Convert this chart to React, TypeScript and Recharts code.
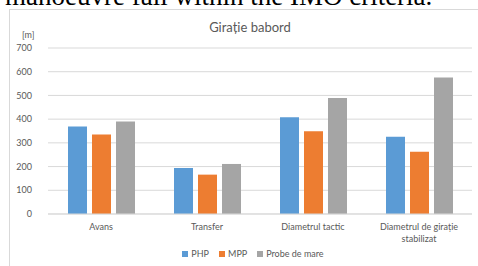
import { BarChart, Bar, XAxis, YAxis, CartesianGrid, Legend } from 'recharts'

const categories = ['Avans', 'Transfer', 'Diametrul tactic', 'Diametrul de girație stabilizat']
const php = [369, 194, 408, 326]
const mpp = [335, 166, 349, 262]
const probeDeMare = [390, 211, 489, 576]
const yTicks = [0, 100, 200, 300, 400, 500, 600, 700]

const series = [
  { key: 'PHP', color: '#5b9bd5' },
  { key: 'MPP', color: '#ed7d31' },
  { key: 'Probe de mare', color: '#a5a5a5' },
]

const font = 'Lato, "Open Sans", sans-serif'
const textColor = '#595959'

const data = categories.map((name, i) => ({
  name,
  PHP: php[i],
  MPP: mpp[i],
  'Probe de mare': probeDeMare[i],
}))

function CategoryTick(props: any) {
  const { x, y, payload } = props
  const label: string = payload.value
  // excel-style wrap for the long label
  const lines = label.length > 20 ? ['Diametrul de girație', 'stabilizat'] : [label]
  return (
    <text x={x} y={y + 8} textAnchor="middle" fill={textColor} fontSize={9} fontFamily={font}>
      {lines.map((l, i) => (
        <tspan key={i} x={x} dy={i === 0 ? 0 : 12}>
          {l}
        </tspan>
      ))}
    </text>
  )
}

function LegendContent() {
  return (
    <div
      style={{
        display: 'flex',
        justifyContent: 'center',
        gap: 10,
        fontFamily: font,
        fontSize: 9,
        color: textColor,
        paddingLeft: 34,
      }}
    >
      {series.map((s) => (
        <span key={s.key} style={{ display: 'flex', alignItems: 'center', gap: 3 }}>
          <span style={{ width: 6, height: 6, background: s.color, display: 'inline-block' }} />
          {s.key}
        </span>
      ))}
    </div>
  )
}

export default function App() {
  return (
    <div style={{ position: 'fixed', left: 0, top: 0, width: 478, height: 266, overflow: 'hidden', background: '#fff' }}>
      <div style={{ position: 'absolute', left: 0, top: 0 }}>
        <BarChart
          width={478}
          height={266}
          data={data}
          margin={{ top: 48, right: 6, bottom: 4, left: 0 }}
          barSize={19}
          barGap={5}
        >
          <CartesianGrid vertical={false} stroke="#d9d9d9" />
          <XAxis
            dataKey="name"
            tick={<CategoryTick />}
            axisLine={{ stroke: '#d9d9d9' }}
            tickLine={false}
            height={34}
            interval={0}
          />
          <YAxis
            domain={[0, 700]}
            ticks={yTicks}
            width={48}
            axisLine={false}
            tickLine={false}
            tick={{ fontSize: 9, fill: textColor, fontFamily: font }}
            tickMargin={10}
          />
          <Legend verticalAlign="bottom" height={14} content={<LegendContent />} />
          {series.map((s) => (
            <Bar key={s.key} dataKey={s.key} fill={s.color} isAnimationActive={false} />
          ))}
        </BarChart>
      </div>
      <div
        style={{
          position: 'absolute',
          left: 9,
          top: 9,
          width: 478,
          height: 266,
          border: '1px solid #d9d9d9',
          pointerEvents: 'none',
        }}
      />
      <div
        style={{
          position: 'absolute',
          left: 0,
          width: 500,
          top: 19,
          textAlign: 'center',
          fontFamily: font,
          fontSize: 13,
          color: textColor,
        }}
      >
        Girație babord
      </div>
      <div style={{ position: 'absolute', left: 22, top: 29, fontFamily: font, fontSize: 9, color: textColor }}>
        [m]
      </div>
      <div
        style={{
          position: 'absolute',
          left: 5,
          top: -17,
          fontFamily: '"Liberation Serif", serif',
          fontSize: 27,
          lineHeight: '27px',
          color: '#000',
          whiteSpace: 'nowrap',
        }}
      >
        manoeuvre fall within the IMO criteria.
      </div>
    </div>
  )
}
